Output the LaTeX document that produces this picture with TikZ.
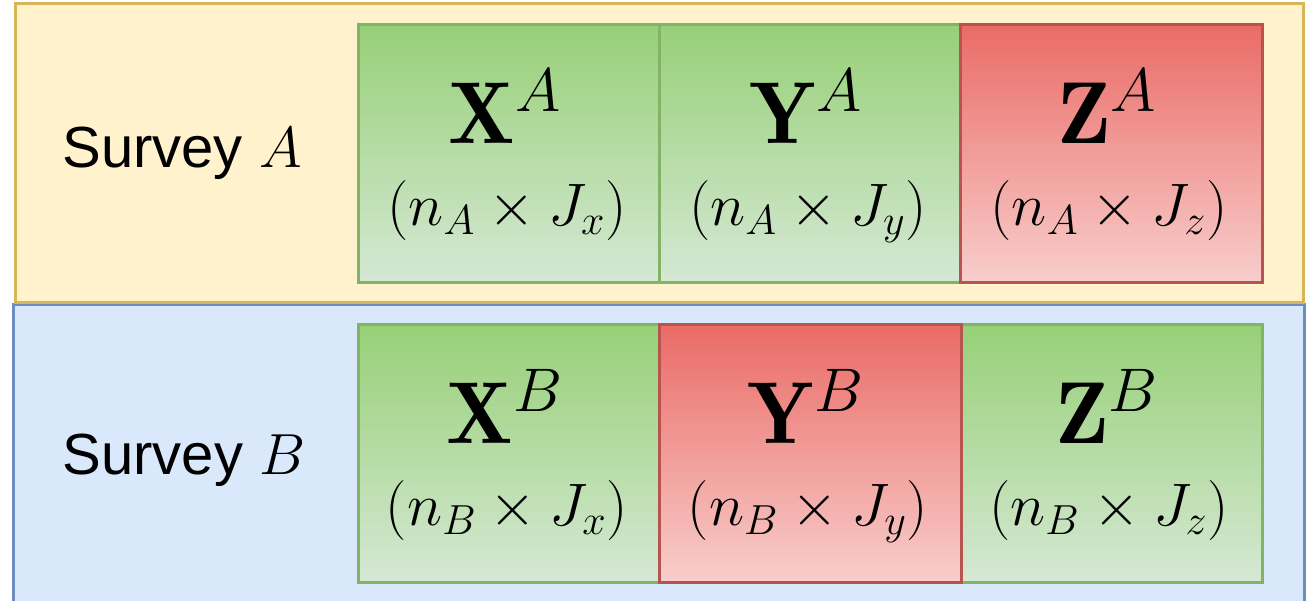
\documentclass[tikz,border=0pt]{standalone}
\usepackage{fix-cm}
\usepackage{amsmath,amssymb}
\usepackage{fontspec}
\newfontfamily\surveyfont{Liberation Sans}
\usepackage{xcolor}
\definecolor{panelAfill}{HTML}{FFF2CC}
\definecolor{panelAline}{HTML}{D6B656}
\definecolor{panelBfill}{HTML}{DAE8FC}
\definecolor{panelBline}{HTML}{6C8EBF}
\definecolor{greentop}{HTML}{97D077}
\definecolor{greenbot}{HTML}{D5E8D4}
\definecolor{greenline}{HTML}{82B366}
\definecolor{redtop}{HTML}{EA6B66}
\definecolor{redbot}{HTML}{F8CECC}
\definecolor{redline}{HTML}{B85450}
\usepackage{tikz}
\usetikzlibrary{positioning}

\tikzset{
    cell/.style={rectangle, minimum width=151pt, minimum height=129pt, line width=1.5pt, inner sep=0pt},
    greencell/.style={cell, draw=greenline, top color=greentop, bottom color=greenbot},
    redcell/.style={cell, draw=redline, top color=redtop, bottom color=redbot},
    matname/.style={anchor=base, font=\fontsize{44}{48}\selectfont, inner sep=0pt},
    matdim/.style={anchor=base, font=\fontsize{30}{34}\selectfont, inner sep=0pt},
    survey/.style={anchor=base, font=\surveyfont\fontsize{29}{32}\selectfont, inner sep=0pt}
}

\begin{document}
\begin{tikzpicture}[x=0.5pt, y=-0.5pt]
    \useasboundingbox (0,0) rectangle (1309,600);
    \clip (0,0) rectangle (1309,600);

    % Survey panels
    \draw[line width=1.5pt, panelBline, fill=panelBfill] (13,304) rectangle (1304,640);
    \draw[line width=1.5pt, panelAline, fill=panelAfill] (15,3) rectangle (1303,302);

    % Survey labels
    \node[survey] (surveyA) at (182,167) {Survey $A$};
    \node[survey] (surveyB) at (184,474) {Survey $B$};

    % Blocks of survey A
    \node[greencell] (XA) at (509,153) {};
    \node[greencell] (YA) at (810,153) {};
    \node[redcell]   (ZA) at (1111,153) {};

    % Blocks of survey B
    \node[greencell] (XB) at (509,453.5) {};
    \node[greencell] (ZB) at (1111,453.5) {};
    \node[redcell]   (YB) at (810,453.5) {};

    % Block names
    \node[matname] (XAname) at (505,143) {$\mathbf{X}^A$};
    \node[matname] (YAname) at (806,143) {$\mathbf{Y}^A$};
    \node[matname] (ZAname) at (1107,143) {$\mathbf{Z}^A$};
    \node[matname] (XBname) at (505,443) {$\mathbf{X}^B$};
    \node[matname] (YBname) at (806,443) {$\mathbf{Y}^B$};
    \node[matname] (ZBname) at (1107,443) {$\mathbf{Z}^B$};

    % Block sizes
    \node[matdim] (XAdim) at (507,225) {$(n_A \times J_x)$};
    \node[matdim] (YAdim) at (808,225) {$(n_A \times J_y)$};
    \node[matdim] (ZAdim) at (1109,225) {$(n_A \times J_z)$};
    \node[matdim] (XBdim) at (507,525) {$(n_B \times J_x)$};
    \node[matdim] (YBdim) at (808,525) {$(n_B \times J_y)$};
    \node[matdim] (ZBdim) at (1109,525) {$(n_B \times J_z)$};
\end{tikzpicture}
\end{document}
